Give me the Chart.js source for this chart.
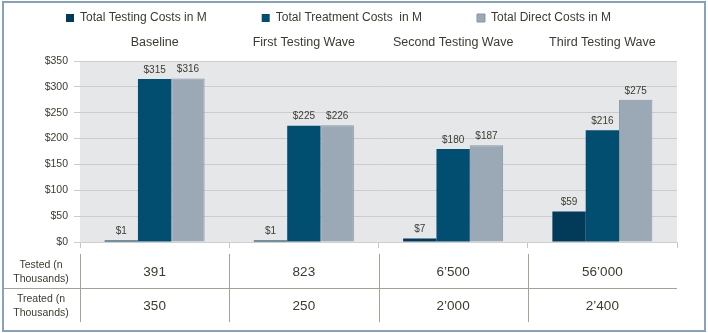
<!DOCTYPE html>
<html>
<head>
<meta charset="utf-8">
<title>Testing costs</title>
<script src="https://cdn.jsdelivr.net/npm/chart.js@4.4.1/dist/chart.umd.min.js"></script>
<style>
    html, body { margin: 0; padding: 0; background: #ffffff; }
    #wrap { width: 708px; height: 333px; }
</style>
</head>
<body>
<div id="wrap"><canvas id="grafica" width="708" height="333"></canvas></div>
<script>
"use strict";

const categorias = ["Baseline", "First Testing Wave", "Second Testing Wave", "Third Testing Wave"];
const testingCosts = [1, 1, 7, 59];
const treatmentCosts = [315, 225, 180, 216];
const directCosts = [316, 226, 187, 275];
const yTicks = [0, 50, 100, 150, 200, 250, 300, 350];

const testedLabel = ["Tested (n", "Thousands)"];
const treatedLabel = ["Treated (n", "Thousands)"];
const tested = ["391", "823", "6\u2019500", "56\u2019000"];
const treated = ["350", "250", "2\u2019000", "2\u2019400"];

const FONT = "'Liberation Sans', Arial, sans-serif";
const TEXT = "#3b3b30";

document.addEventListener("DOMContentLoaded", () => {
    const canvas = document.querySelector("#grafica");

    /**
     * Fondo gris del area de la grafica y marco exterior
     */
    const fondo = {
        id: "fondo",
        beforeDraw(chart) {
            const { ctx, chartArea } = chart;
            ctx.save();
            ctx.fillStyle = "#e6e7e9";
            ctx.fillRect(chartArea.left, chartArea.top, chartArea.right - chartArea.left, chartArea.bottom - chartArea.top);
            ctx.restore();
        },
        afterDraw(chart) {
            const { ctx } = chart;
            ctx.save();
            ctx.strokeStyle = "#86a3bb";
            ctx.lineWidth = 2;
            ctx.strokeRect(3, 2, 702, 329);
            ctx.restore();
        },
    };

    /**
     * Etiquetas de valor encima de cada barra
     */
    const etiquetas = {
        id: "etiquetas",
        afterDatasetsDraw(chart) {
            const { ctx } = chart;
            ctx.save();
            ctx.font = "10px " + FONT;
            ctx.fillStyle = TEXT;
            ctx.textAlign = "center";
            ctx.textBaseline = "bottom";
            chart.data.datasets.forEach((ds, i) => {
                chart.getDatasetMeta(i).data.forEach((bar, j) => {
                    ctx.fillText("$" + ds.data[j], bar.x, bar.y - 4);
                });
            });
            ctx.restore();
        },
    };

    /**
     * Tabla debajo de la grafica (probados / tratados)
     */
    const tabla = {
        id: "tabla",
        afterDraw(chart) {
            const { ctx, chartArea } = chart;
            const x = chart.scales.x;
            const paso = x.getPixelForValue(1) - x.getPixelForValue(0);
            const filaSep = 288;

            ctx.save();
            ctx.strokeStyle = "#a3a394";
            ctx.lineWidth = 1;
            ctx.beginPath();
            ctx.moveTo(3, filaSep + 0.5);
            ctx.lineTo(chartArea.right, filaSep + 0.5);
            categorias.forEach((c, i) => {
                const borde = Math.round(x.getPixelForValue(i) - paso / 2) + 0.5;
                ctx.moveTo(borde, 254);
                ctx.lineTo(borde, 322);
            });
            ctx.stroke();

            ctx.fillStyle = TEXT;
            ctx.textAlign = "center";
            ctx.textBaseline = "middle";
            ctx.font = "10.5px " + FONT;
            ctx.fillText(testedLabel[0], 41, 265);
            ctx.fillText(testedLabel[1], 41, 279);
            ctx.fillText(treatedLabel[0], 41, 299);
            ctx.fillText(treatedLabel[1], 41, 313);

            ctx.font = "13.5px " + FONT;
            categorias.forEach((c, i) => {
                const cx = x.getPixelForValue(i);
                ctx.fillText(tested[i], cx, 272);
                ctx.fillText(treated[i], cx, 306);
            });
            ctx.restore();
        },
    };

    const valores = {
        labels: categorias,
        datasets: [
            {
                label: "Total Testing Costs in M",
                data: testingCosts,
                backgroundColor: "#013b59",
                minBarLength: 1.5,
            },
            {
                label: "Total Treatment Costs  in M",
                data: treatmentCosts,
                backgroundColor: "#014e70",
            },
            {
                label: "Total Direct Costs in M",
                data: directCosts,
                backgroundColor: "#9ba8b5",
                borderColor: "#8797a7",
                borderWidth: 1,
            },
        ],
    };

    new Chart(canvas, {
        type: "bar",
        data: valores,
        options: {
            responsive: false,
            animation: false,
            datasets: {
                bar: {
                    categoryPercentage: 0.67,
                    barPercentage: 1,
                },
            },
            layout: {
                padding: { top: -43, left: 0, right: 31, bottom: 0 },
            },
            plugins: {
                tooltip: { enabled: false },
                legend: {
                    position: "top",
                    labels: {
                        boxWidth: 8,
                        boxHeight: 8,
                        padding: 55,
                        color: TEXT,
                        font: { family: FONT, size: 12 },
                    },
                },
            },
            scales: {
                x2: {
                    type: "category",
                    labels: categorias,
                    position: "top",
                    offset: true,
                    grid: { display: false, drawTicks: false },
                    border: { display: false },
                    ticks: {
                        color: TEXT,
                        padding: 10.5,
                        autoSkip: false,
                        maxRotation: 0,
                        font: { family: FONT, size: 12.5 },
                    },
                    afterFit: (s) => {
                        s.height = 27;
                        s.paddingLeft = 0;
                        s.paddingRight = 0;
                    },
                },
                x: {
                    offset: true,
                    grid: {
                        drawOnChartArea: false,
                        drawTicks: true,
                        tickLength: 6,
                        color: "#c6c6c6",
                    },
                    border: { display: true, color: "#cfcfcf" },
                    ticks: { display: false },
                    afterFit: (s) => {
                        s.height = 91;
                        s.paddingLeft = 0;
                        s.paddingRight = 0;
                    },
                },
                y: {
                    min: 0,
                    max: 350,
                    afterBuildTicks: (s) => { s.ticks = yTicks.map((v) => ({ value: v })); },
                    grid: {
                        color: "#cbccce",
                        tickLength: 6,
                    },
                    border: { display: false },
                    ticks: {
                        color: TEXT,
                        padding: 6,
                        autoSkip: false,
                        font: { family: FONT, size: 10.5 },
                        callback: (v) => "$" + v,
                    },
                    afterFit: (s) => {
                        s.width = 80;
                        s.paddingTop = 0;
                        s.paddingBottom = 0;
                    },
                },
            },
        },
        plugins: [fondo, etiquetas, tabla],
    });
});
</script>
</body>
</html>
